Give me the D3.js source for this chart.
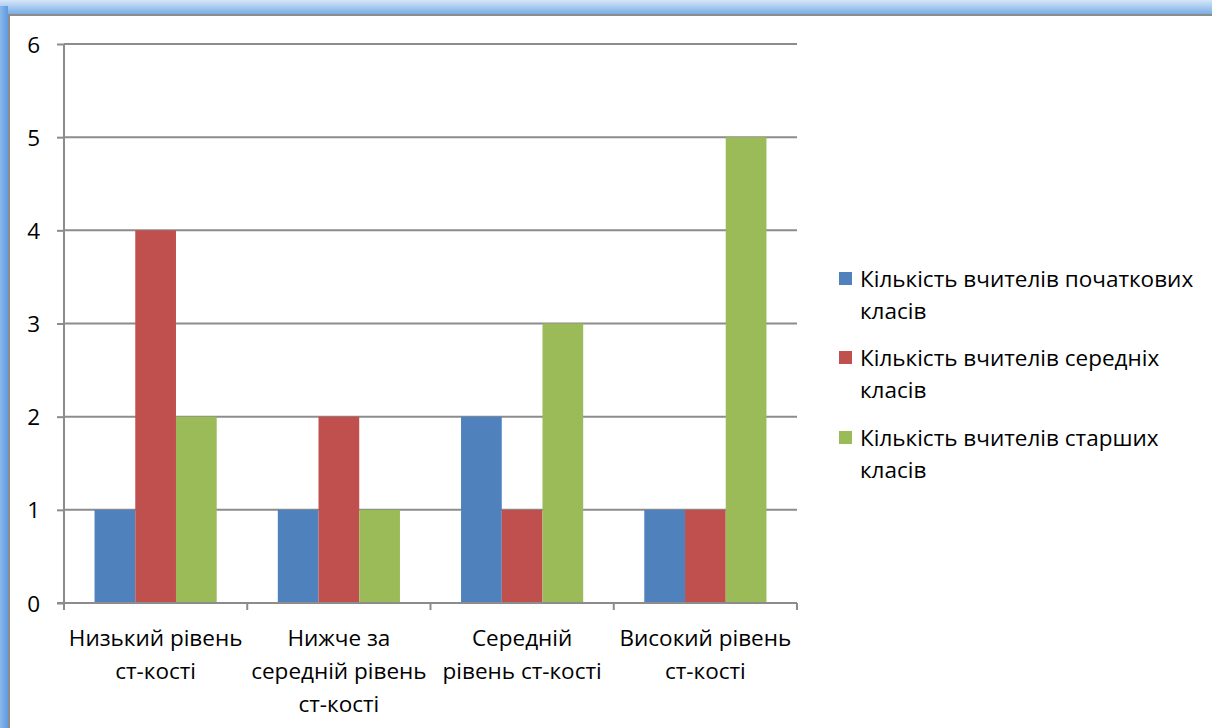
<!DOCTYPE html>
<html>
<head>
<meta charset="utf-8">
<script src="https://cdn.jsdelivr.net/npm/d3@7"></script>
<style>
  html, body { margin: 0; padding: 0; background: #fff; }
  svg { display: block; }
  text { font-family: "Open Sans", "Noto Sans", sans-serif; fill: #000; }
</style>
</head>
<body>
<svg id="chart" width="1212" height="728"></svg>
<script>
// Category labels (line-broken as displayed under the axis)
const categories = [
  ["Низький рівень", "ст-кості"],
  ["Нижче за", "середній рівень", "ст-кості"],
  ["Середній", "рівень ст-кості"],
  ["Високий рівень", "ст-кості"]
];
const seriesNames = [
  ["Кількість вчителів початкових", "класів"],
  ["Кількість вчителів середніх", "класів"],
  ["Кількість вчителів старших", "класів"]
];
const primaryTeachers = [1, 1, 2, 1];
const middleTeachers = [4, 2, 1, 1];
const seniorTeachers = [2, 1, 3, 5];
const yTicks = [0, 1, 2, 3, 4, 5, 6];
const colors = ["#4F81BD", "#C0504D", "#9BBB59"];

const series = [primaryTeachers, middleTeachers, seniorTeachers];

const svg = d3.select("#chart");
const W = 1212, H = 728;
const FONT = 22.5;

// Window-like frame: blue gradient edges with a grey inner border
const defs = svg.append("defs");
const gTop = defs.append("linearGradient").attr("id", "topGrad")
  .attr("x1", 0).attr("y1", 0).attr("x2", 0).attr("y2", 1);
gTop.append("stop").attr("offset", "0%").attr("stop-color", "#d6e6f8");
gTop.append("stop").attr("offset", "100%").attr("stop-color", "#7aaee6");
const gLeft = defs.append("linearGradient").attr("id", "leftGrad")
  .attr("x1", 0).attr("y1", 0).attr("x2", 1).attr("y2", 0);
gLeft.append("stop").attr("offset", "0%").attr("stop-color", "#8ab8ec");
gLeft.append("stop").attr("offset", "100%").attr("stop-color", "#5f9ae0");

svg.append("rect").attr("x", 0).attr("y", 0).attr("width", W).attr("height", H).attr("fill", "#fff");
svg.append("rect").attr("x", 0).attr("y", 0).attr("width", W).attr("height", 14).attr("fill", "url(#topGrad)");
svg.append("rect").attr("x", 0).attr("y", 6).attr("width", 8).attr("height", H - 6).attr("fill", "url(#leftGrad)");
svg.append("rect").attr("x", 8).attr("y", 14).attr("width", W - 8).attr("height", 2).attr("fill", "#8c8c8c");
svg.append("rect").attr("x", 8).attr("y", 14).attr("width", 2).attr("height", H - 14).attr("fill", "#8c8c8c");

// Plot area
const plot = { left: 64, right: 797, top: 44, bottom: 603 };

const x = d3.scaleBand()
  .domain(d3.range(categories.length))
  .range([plot.left, plot.right])
  .paddingInner(0).paddingOuter(0);

const y = d3.scaleLinear().domain([0, 6]).range([plot.bottom, plot.top]);

// Bars: gap width 150% of a bar, three bars per group
const barW = x.bandwidth() / (series.length + 1.5);
const gap = barW * 0.75;

const gridColor = "#8c8c8c";

// Horizontal gridlines with y-axis tick marks
const yAxis = d3.axisLeft(y).tickValues(yTicks).tickSize(7).tickPadding(17).tickFormat(d3.format("d"));
const yG = svg.append("g").attr("transform", `translate(${plot.left},0)`).call(yAxis);
yG.attr("font-family", null).attr("font-size", null);
yG.select(".domain").remove();
yG.selectAll(".tick line").attr("stroke", gridColor).attr("stroke-width", 2);
yG.selectAll(".tick text").attr("font-size", FONT).attr("fill", "#000").attr("dy", "0.36em");

svg.append("g").selectAll("line").data(yTicks.filter(d => d > 0)).join("line")
  .attr("x1", plot.left).attr("x2", plot.right)
  .attr("y1", d => y(d)).attr("y2", d => y(d))
  .attr("stroke", gridColor).attr("stroke-width", 2);

// Bars
series.forEach((vals, si) => {
  svg.append("g").selectAll("rect").data(vals).join("rect")
    .attr("x", (d, i) => x(i) + gap + si * barW)
    .attr("y", d => y(d))
    .attr("width", barW)
    .attr("height", d => y(0) - y(d))
    .attr("fill", colors[si]);
});

// Axes lines
svg.append("line").attr("x1", plot.left).attr("x2", plot.left)
  .attr("y1", plot.top).attr("y2", plot.bottom)
  .attr("stroke", gridColor).attr("stroke-width", 2);
svg.append("line").attr("x1", plot.left - 7).attr("x2", plot.right)
  .attr("y1", plot.bottom).attr("y2", plot.bottom)
  .attr("stroke", gridColor).attr("stroke-width", 2);

// Category tick marks at band boundaries
const boundaries = d3.range(categories.length + 1).map(i => plot.left + i * x.bandwidth());
svg.append("g").selectAll("line").data(boundaries).join("line")
  .attr("x1", d => d).attr("x2", d => d)
  .attr("y1", plot.bottom).attr("y2", plot.bottom + 7)
  .attr("stroke", gridColor).attr("stroke-width", 2);

// Category labels
const catG = svg.append("g");
categories.forEach((lines, i) => {
  const cx = x(i) + x.bandwidth() / 2;
  const t = catG.append("text")
    .attr("x", cx)
    .attr("y", 646)
    .attr("text-anchor", "middle")
    .attr("font-size", FONT);
  lines.forEach((ln, j) => {
    t.append("tspan").attr("x", cx).attr("dy", j === 0 ? 0 : 33).text(ln);
  });
});

// Legend
const legend = svg.append("g");
const legendBaselines = [287, 366, 446];
seriesNames.forEach((lines, i) => {
  legend.append("rect")
    .attr("x", 839).attr("y", legendBaselines[i] - 15)
    .attr("width", 13).attr("height", 13)
    .attr("fill", colors[i]);
  const t = legend.append("text").attr("x", 860).attr("y", legendBaselines[i]).attr("font-size", FONT);
  lines.forEach((ln, j) => {
    t.append("tspan").attr("x", 860).attr("dy", j === 0 ? 0 : 32).text(ln);
  });
});
</script>
</body>
</html>
